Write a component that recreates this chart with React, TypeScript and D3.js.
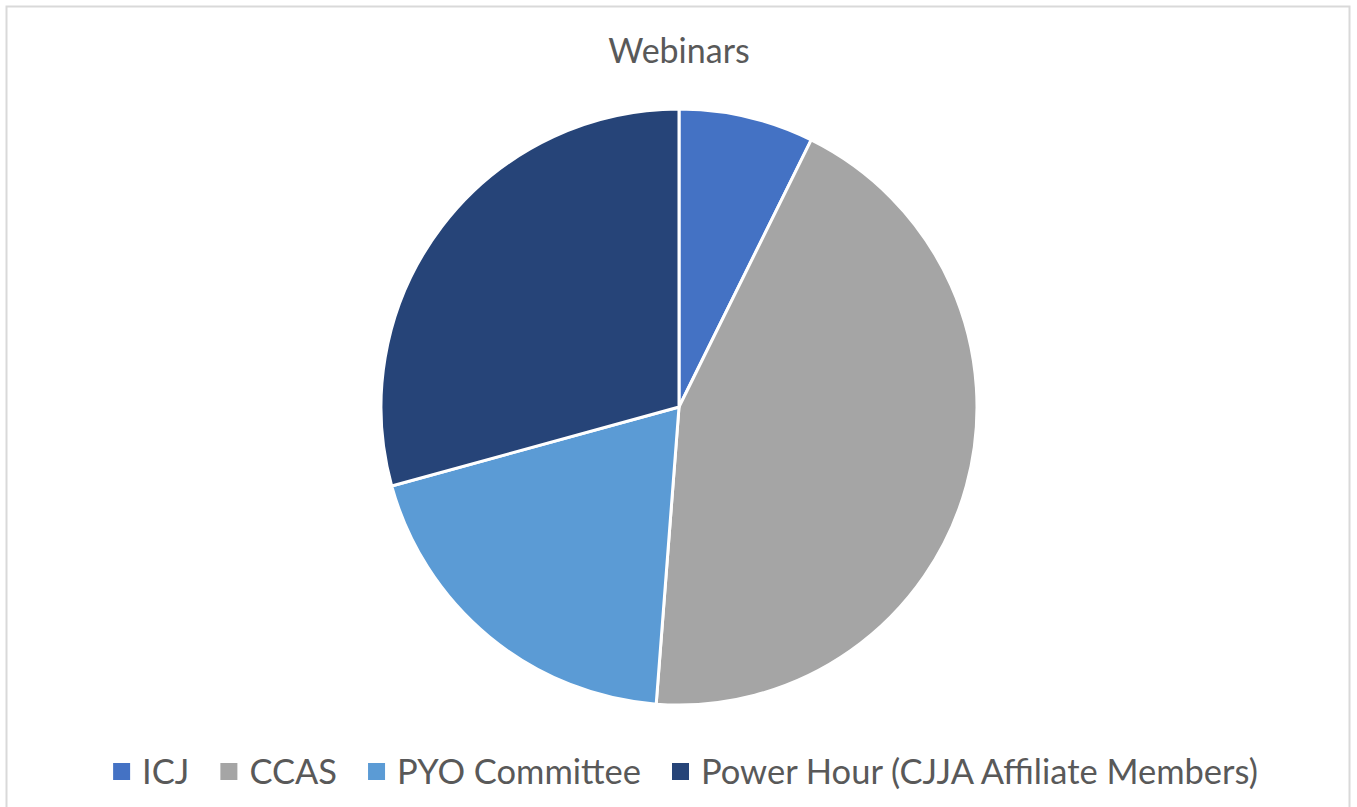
import React, { useEffect, useRef } from 'react'
import * as d3 from 'd3'

// webinar counts per group
const categories = ['ICJ', 'CCAS', 'PYO Committee', 'Power Hour (CJJA Affiliate Members)']
const values = [3, 18, 8, 12]
const colors = ['#4472C4', '#A5A5A5', '#5B9BD5', '#264478']
const title = 'Webinars'

const FONT = 'Lato, "Open Sans", sans-serif'

export default function App() {
  const ref = useRef<SVGSVGElement>(null)

  useEffect(() => {
    const width = 1357, height = 807
    const svg = d3.select(ref.current)
    svg.selectAll('*').remove()
    svg.attr('width', width).attr('height', height)

    // chart frame
    svg.append('rect')
      .attr('x', 6.5).attr('y', 6.5)
      .attr('width', 1343).attr('height', 810)
      .attr('fill', '#fff')
      .attr('stroke', '#D9D9D9')
      .attr('stroke-width', 2)

    svg.append('text')
      .attr('x', 679).attr('y', 63)
      .attr('text-anchor', 'middle')
      .attr('font-family', FONT)
      .attr('font-size', 34)
      .attr('fill', '#595959')
      .text(title)

    const data = categories.map((c, i) => ({ name: c, value: values[i] }))
    const pie = d3.pie<any>().value(d => d.value).sort(null)
    const arc = d3.arc<any>().innerRadius(0).outerRadius(298)

    const g = svg.append('g').attr('transform', 'translate(679,407)')
    g.selectAll('path')
      .data(pie(data))
      .enter()
      .append('path')
      .attr('d', arc)
      .attr('fill', (d, i) => colors[i])
      .attr('stroke', '#fff')
      .attr('stroke-width', 3)
      .attr('stroke-linejoin', 'round')

    // pick legend font size so the longest entry spans ~557px like the original
    const probe = svg.append('text')
      .attr('font-family', FONT).attr('font-size', 40)
      .text(categories[3])
    const pw = (probe.node() as SVGTextElement).getComputedTextLength()
    probe.remove()
    const fs = 40 * 557 / pw

    // legend, laid out from measured text widths
    const gap = 31
    const leg = svg.append('g')
    let x = 0
    data.forEach((d, i) => {
      const item = leg.append('g').attr('transform', `translate(${x},0)`)
      item.append('rect')
        .attr('x', 0).attr('y', -21)
        .attr('width', 17).attr('height', 17)
        .attr('fill', colors[i])
      const t = item.append('text')
        .attr('x', 29).attr('y', 0)
        .attr('font-family', FONT)
        .attr('font-size', fs)
        .attr('fill', '#595959')
        .text(d.name)
      const w = (t.node() as SVGTextElement).getComputedTextLength()
      x += 29 + w + gap
    })
    const total = x - gap
    leg.attr('transform', `translate(${685.5 - total / 2},784)`)
  }, [])

  return (
    <div style={{ position: 'absolute', left: 0, top: 0 }}>
      <svg ref={ref} style={{ display: 'block' }} />
    </div>
  )
}
